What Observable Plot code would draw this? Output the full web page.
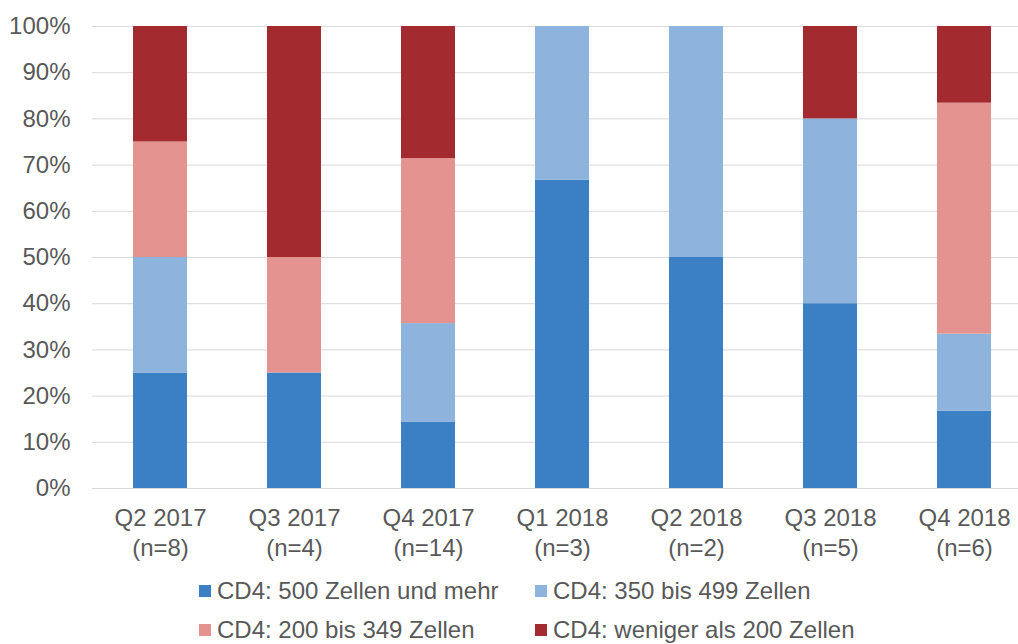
<!DOCTYPE html>
<html><head><meta charset="utf-8">
<script src="https://cdn.jsdelivr.net/npm/d3@7"></script>
<script src="https://cdn.jsdelivr.net/npm/@observablehq/plot@0.6"></script>
<style>
body{margin:0;background:#fff;font-family:"Liberation Sans",Arial,sans-serif;}
#wrap{position:relative;width:1018px;height:644px;overflow:hidden;}
#legend{position:absolute;left:0;top:568px;width:1018px;height:76px;}
.item{position:absolute;display:flex;align-items:center;font-size:24px;color:#595959;white-space:nowrap;line-height:1;}
.sw{width:12px;height:12px;margin-right:6px;flex:none;}
</style></head><body><div id="wrap"><div id="chart"></div><div id="legend"></div></div>
<script>
const quarters = ["Q2 2017","Q3 2017","Q4 2017","Q1 2018","Q2 2018","Q3 2018","Q4 2018"];
const nValues = [8,4,14,3,2,5,6];
const series = ["CD4: 500 Zellen und mehr","CD4: 350 bis 499 Zellen","CD4: 200 bis 349 Zellen","CD4: weniger als 200 Zellen"];
const colors = ["#3B80C4","#8EB4DD","#E59391","#A32B2F"];
const pct500 = [25,25,14.3,66.7,50,40,16.7];
const pct350 = [25,0,21.4,33.3,50,40,16.7];
const pct200 = [25,25,35.7,0,0,0,50];
const pctUnder200 = [25,50,28.6,0,0,20,16.6];
const yTicks = [0,10,20,30,40,50,60,70,80,90,100];

const seriesValues = [pct500,pct350,pct200,pctUnder200];
const data = [];
series.forEach((s,si)=>quarters.forEach((q,qi)=>data.push({quarter:q,series:s,value:seriesValues[si][qi]})));

const chart = Plot.plot({
  width:1018, height:568,
  marginLeft:92, marginRight:0, marginTop:26, marginBottom:80,
  style:{fontFamily:'"Liberation Sans",Arial,sans-serif', fontSize:"24px", color:"#595959", background:"#fff"},
  x:{domain:quarters, range:[92,1031], paddingInner:0.6, paddingOuter:0.3, label:null},
  y:{domain:[0,100], label:null},
  color:{domain:series, range:colors},
  marks:[
    Plot.gridY(yTicks,{stroke:"#D9D9D9", strokeOpacity:1, strokeWidth:1}),
    Plot.barY(data,{x:"quarter", y:"value", fill:"series", order:series}),
    Plot.axisY(yTicks,{tickSize:0, tickPadding:22, tickFormat:d=>d+"%", label:null, fontSize:24, fill:"#595959"}),
    Plot.axisX({tickSize:0, tickPadding:17, label:null, fontSize:24, fill:"#595959", lineHeight:1.23,
      tickFormat:d=>d+"\n(n="+nValues[quarters.indexOf(d)]+")"})
  ]
});
document.getElementById("chart").appendChild(chart);

const legend = document.getElementById("legend");
const pos = [[199,23],[535,23],[199,62],[535,62]];
series.forEach((s,i)=>{
  const it = document.createElement("div");
  it.className="item";
  it.style.left=pos[i][0]+"px";
  it.style.top=(pos[i][1]-12)+"px";
  it.style.height="24px";
  const sw=document.createElement("div");sw.className="sw";sw.style.background=colors[i];
  const tx=document.createElement("span");tx.textContent=s;
  it.appendChild(sw);it.appendChild(tx);legend.appendChild(it);
});
</script></body></html>
